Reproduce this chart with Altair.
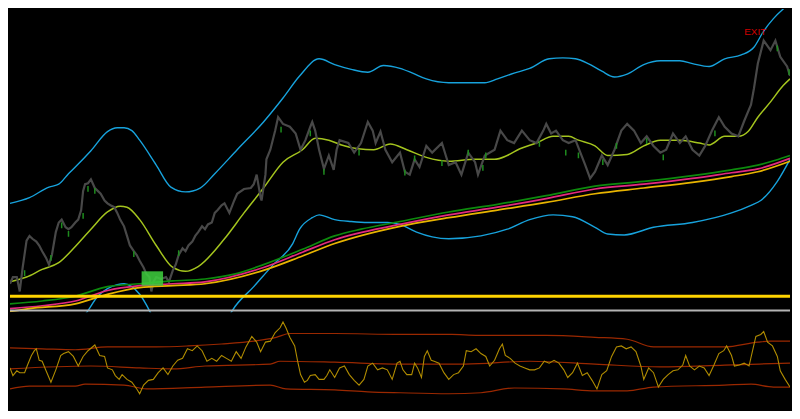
import altair as alt
import pandas as pd

# ---------------- data ----------------
price_x = [0, 3, 7, 10, 13, 17, 20, 23, 27, 30, 33, 37, 40, 43, 47, 50, 53, 57, 60, 63, 67, 70, 73, 75, 77, 80, 83, 87, 90, 93, 97, 100, 103, 107, 110, 113, 117, 120, 123, 127, 130, 133, 137, 140, 143, 145, 147, 150, 155, 160, 163, 167, 170, 173, 177, 180, 183, 187, 190, 193, 197, 200, 203, 207, 210, 213, 217, 220, 225, 230, 233, 240, 247, 250, 253, 257, 258, 262, 263, 267, 272, 275, 280, 287, 293, 298, 303, 308, 310, 313, 317, 322, 327, 332, 335, 338, 347, 353, 360, 367, 372, 375, 380, 385, 392, 400, 405, 410, 415, 420, 427, 433, 443, 450, 457, 463, 470, 477, 480, 487, 497, 503, 510, 517, 525, 533, 540, 547, 550, 555, 560, 567, 573, 580, 585, 590, 595, 600, 607, 613, 620, 627, 633, 640, 647, 653, 660, 667, 673, 680, 687, 693, 700, 707, 713, 720, 727, 733, 740, 747, 753, 760, 763, 767, 773, 780, 785, 790, 797, 800]
price_v = [28, 35, 35, 20, 45, 73, 78, 75, 72, 68, 62, 55, 48, 58, 82, 92, 95, 87, 85, 87, 92, 95, 105, 125, 132, 133, 137, 128, 125, 122, 115, 112, 110, 108, 102, 95, 88, 78, 68, 62, 58, 52, 45, 38, 35, 20, 30, 35, 33, 35, 30, 42, 48, 58, 65, 62, 68, 72, 78, 82, 88, 85, 90, 92, 102, 105, 110, 112, 102, 115, 122, 127, 128, 132, 142, 118, 115, 142, 158, 168, 188, 202, 195, 192, 185, 168, 178, 192, 197, 188, 168, 148, 162, 147, 168, 178, 175, 165, 175, 197, 188, 175, 187, 168, 155, 165, 145, 142, 158, 150, 172, 165, 175, 152, 155, 142, 165, 155, 142, 162, 168, 188, 178, 175, 188, 178, 175, 188, 195, 185, 188, 178, 175, 178, 165, 152, 138, 145, 162, 152, 168, 188, 195, 188, 175, 182, 172, 165, 168, 185, 175, 182, 168, 162, 172, 188, 202, 192, 185, 182, 198, 215, 232, 258, 282, 272, 282, 265, 255, 245]

up_bar_x = [15, 42, 53, 60, 75, 80, 87, 127, 173, 278, 308, 322, 358, 405, 415, 443, 470, 485, 488, 543, 570, 583, 608, 622, 653, 670, 723, 787, 799]
up_bar_high = [42, 58, 92, 83, 102, 130, 128, 62, 63, 192, 188, 148, 168, 147, 162, 157, 168, 152, 165, 177, 168, 165, 158, 175, 180, 163, 188, 277, 252]
up_bar_low = [36, 52, 86, 77, 96, 124, 122, 56, 57, 186, 182, 142, 162, 141, 156, 151, 162, 146, 159, 171, 162, 159, 152, 169, 174, 157, 182, 271, 246]

mid_x = [0, 17, 33, 50, 67, 83, 100, 113, 120, 133, 150, 167, 180, 193, 220, 240, 260, 280, 300, 313, 327, 340, 357, 373, 390, 407, 427, 450, 477, 497, 510, 523, 540, 557, 573, 583, 600, 613, 633, 650, 667, 687, 707, 717, 733, 747, 757, 767, 780, 793, 800]
mid_v = [30, 35, 43, 50, 67, 85, 103, 109, 108, 95, 68, 45, 41, 46, 75, 102, 128, 155, 168, 180, 178, 173, 169, 168, 174, 168, 160, 156, 158, 158, 162, 169, 175, 182, 182, 178, 172, 162, 163, 172, 178, 178, 175, 173, 182, 182, 187, 202, 218, 235, 242]

upper_x = [0, 20, 40, 50, 60, 67, 83, 100, 110, 117, 125, 133, 150, 165, 180, 195, 210, 233, 260, 280, 297, 317, 333, 350, 367, 383, 400, 413, 427, 450, 467, 487, 500, 517, 533, 553, 567, 580, 593, 607, 620, 633, 650, 667, 687, 700, 717, 733, 750, 763, 773, 783, 793, 800]
upper_v = [112, 118, 129, 132, 143, 150, 167, 187, 191, 191, 188, 178, 152, 129, 124, 128, 143, 168, 197, 222, 245, 263, 257, 252, 249, 256, 253, 248, 242, 238, 238, 238, 242, 248, 253, 263, 264, 263, 258, 250, 244, 247, 257, 261, 261, 258, 255, 263, 267, 275, 292, 305, 315, 321]

lower_x = [70, 80, 90, 100, 110, 117, 125, 133, 143, 150, 185, 220, 228, 250, 270, 290, 297, 310, 317, 333, 350, 367, 387, 400, 417, 433, 450, 483, 510, 533, 557, 577, 600, 613, 630, 660, 700, 740, 760, 770, 787, 800]
lower_v = [-15, 0, 15, 23, 27, 28, 25, 17, 0, -15, -60, -15, 0, 25, 48, 70, 85, 97, 100, 95, 93, 92, 92, 90, 82, 77, 75, 78, 85, 95, 100, 98, 87, 80, 79, 87, 92, 102, 110, 115, 135, 158]

ma_fast_x = [0, 33, 67, 100, 133, 167, 200, 230, 260, 300, 333, 360, 400, 450, 500, 550, 600, 650, 700, 740, 767, 785, 800]
ma_fast_v = [7, 10, 15, 25, 28, 31, 33, 38, 48, 64, 78, 85, 93, 103, 111, 120, 130, 135, 141, 147, 152, 157, 162]
ma_mid_x = [0, 33, 67, 100, 133, 167, 200, 260, 300, 333, 400, 450, 500, 550, 600, 650, 700, 740, 767, 800]
ma_mid_v = [2, 5, 10, 21, 26, 28, 30, 45, 61, 74, 90, 100, 108, 117, 127, 132, 138, 144, 148, 159]
ma_slow_x = [0, 20, 67, 100, 133, 167, 200, 260, 300, 333, 400, 450, 500, 550, 600, 650, 700, 740, 767, 800]
ma_slow_v = [-1, 2, 7, 17, 24, 26, 28, 42, 57, 70, 88, 97, 105, 113, 122, 128, 134, 140, 145, 156]

support_level = [15]
separator_level = [0]

zone_x = [135]
zone_x2 = [157]
zone_low = [26]
zone_high = [41]

exit_x = [753]
exit_v = [288]
exit_text = ["EXIT"]

osc_x = [0, 3, 7, 10, 15, 18, 22, 25, 27, 30, 33, 37, 42, 47, 52, 55, 60, 65, 70, 75, 80, 87, 92, 97, 100, 105, 108, 112, 115, 120, 125, 130, 133, 137, 142, 147, 152, 157, 162, 167, 172, 177, 182, 187, 192, 197, 202, 207, 212, 217, 222, 227, 232, 237, 242, 248, 253, 257, 262, 267, 272, 277, 280, 283, 287, 292, 295, 298, 302, 305, 308, 313, 317, 322, 325, 328, 333, 338, 343, 348, 353, 358, 363, 367, 372, 377, 382, 387, 392, 397, 400, 403, 407, 412, 415, 418, 422, 425, 428, 432, 435, 440, 445, 450, 455, 460, 465, 468, 473, 478, 483, 488, 492, 497, 502, 505, 508, 513, 518, 523, 528, 533, 538, 543, 548, 553, 558, 563, 568, 572, 577, 582, 587, 592, 597, 602, 607, 612, 617, 622, 627, 632, 637, 642, 647, 650, 655, 660, 665, 670, 675, 680, 685, 690, 693, 697, 702, 707, 712, 717, 722, 727, 732, 735, 740, 743, 748, 753, 758, 762, 765, 770, 773, 777, 782, 787, 790, 795, 800]
osc_v = [44, 36, 41, 39, 39, 47, 57, 62, 64, 52, 51, 41, 29, 42, 57, 59, 61, 56, 46, 56, 62, 68, 57, 56, 44, 42, 36, 32, 37, 32, 29, 22, 17, 26, 31, 32, 39, 44, 37, 46, 52, 54, 64, 62, 67, 62, 51, 54, 51, 57, 54, 51, 61, 54, 66, 77, 71, 61, 71, 72, 81, 86, 92, 86, 76, 67, 51, 37, 29, 31, 36, 37, 32, 32, 36, 42, 34, 44, 46, 37, 31, 26, 32, 46, 49, 42, 44, 42, 32, 49, 51, 42, 37, 37, 49, 44, 34, 56, 62, 52, 51, 49, 39, 32, 37, 39, 46, 62, 61, 64, 59, 56, 46, 52, 64, 69, 57, 54, 49, 46, 44, 42, 42, 44, 51, 49, 52, 49, 42, 34, 39, 49, 36, 39, 31, 22, 37, 41, 56, 66, 67, 64, 66, 61, 46, 32, 44, 39, 24, 32, 37, 41, 42, 47, 57, 46, 42, 46, 44, 36, 47, 59, 62, 67, 57, 46, 47, 49, 46, 64, 77, 79, 82, 71, 67, 56, 41, 32, 24]

band_up_x = [0, 33, 67, 100, 150, 183, 217, 250, 273, 287, 333, 400, 453, 480, 550, 600, 633, 660, 733, 767, 780, 800]
band_up_v = [65, 64, 63, 66, 66, 67, 69, 72, 76, 80, 80, 79, 79, 78, 78, 76, 74, 66, 66, 71, 72, 72]
band_mid_x = [0, 83, 133, 167, 200, 267, 277, 333, 400, 467, 533, 600, 667, 733, 800]
band_mid_v = [43, 46, 44, 43, 46, 48, 51, 50, 48, 48, 51, 48, 45, 47, 49]
band_lo_x = [0, 20, 67, 77, 117, 140, 200, 267, 283, 333, 367, 400, 450, 483, 517, 567, 600, 633, 660, 733, 760, 783, 800]
band_lo_v = [22, 25, 25, 27, 26, 22, 24, 26, 22, 21, 19, 18, 17, 18, 23, 22, 20, 20, 24, 26, 27, 24, 24]

# ---------------- chart ----------------
W = 784
H_TOP = 305
H_BOT = 98

X = alt.X("bar:Q", scale=alt.Scale(domain=[0, 800], nice=False, zero=False), axis=None)
YT = alt.Y("v:Q", scale=alt.Scale(domain=[-2, 315], nice=False, zero=False), axis=None)
YB = alt.Y("v:Q", scale=alt.Scale(domain=[0, 102], nice=False, zero=False), axis=None)


def df(xs, vs):
    return pd.DataFrame({"bar": xs, "v": vs})


def line(xs, vs, color, width, y, interp="linear", opacity=1.0):
    return alt.Chart(df(xs, vs)).mark_line(
        color=color, strokeWidth=width, interpolate=interp, clip=True, opacity=opacity
    ).encode(x=X, y=y)


price = line(price_x, price_v, "#484848", 2.2, YT)
up_bars = alt.Chart(pd.DataFrame({"bar": up_bar_x, "v": up_bar_high, "v2": up_bar_low})).mark_rule(
    color="#1e8c1e", strokeWidth=1.5, clip=True
).encode(x=X, y=YT, y2="v2:Q")

upper = line(upper_x, upper_v, "#17a2dc", 1.4, YT, "monotone")
lower = line(lower_x, lower_v, "#17a2dc", 1.4, YT, "monotone")
mid = line(mid_x, mid_v, "#a4c41e", 1.5, YT, "monotone")

ma_fast = line(ma_fast_x, ma_fast_v, "#0d8a0d", 1.7, YT, "monotone")
ma_mid = line(ma_mid_x, ma_mid_v, "#e3297f", 1.7, YT, "monotone")
ma_slow = line(ma_slow_x, ma_slow_v, "#e8b400", 1.7, YT, "monotone")

support = alt.Chart(pd.DataFrame({"v": support_level})).mark_rule(
    color="#ffd400", strokeWidth=3
).encode(y=YT)
separator = alt.Chart(pd.DataFrame({"v": separator_level})).mark_rule(
    color="#b4b4b4", strokeWidth=2
).encode(y=YT)

zone = alt.Chart(pd.DataFrame({"bar": zone_x, "bar2": zone_x2, "v": zone_low, "v2": zone_high})).mark_rect(
    color="#3ccb3c", opacity=0.88
).encode(x=X, x2="bar2:Q", y=YT, y2="v2:Q")

exit_label = alt.Chart(pd.DataFrame({"bar": exit_x, "v": exit_v, "t": exit_text})).mark_text(
    align="left", baseline="alphabetic", color="#d00000", fontSize=10, font="Liberation Sans"
).encode(x=X, y=YT, text="t:N")

top = alt.layer(
    upper, lower, mid, price, up_bars, ma_fast, ma_mid, ma_slow, zone, support, separator, exit_label
).properties(width=W, height=H_TOP)

osc = line(osc_x, osc_v, "#b08c00", 1.1, YB)
b_up = line(band_up_x, band_up_v, "#9a2800", 1.2, YB, "monotone")
b_mid = line(band_mid_x, band_mid_v, "#9a2800", 1.2, YB, "monotone")
b_lo = line(band_lo_x, band_lo_v, "#9a2800", 1.2, YB, "monotone")

bottom = alt.layer(b_up, b_mid, b_lo, osc).properties(width=W, height=H_BOT)

chart = (
    alt.vconcat(top, bottom, spacing=0)
    .properties(padding=0, background="#000000")
    .configure_view(stroke=None, fill="#000000")
    .configure_concat(spacing=0)
)

chart.save("out.html", embed_options={"renderer": "svg", "actions": False})
